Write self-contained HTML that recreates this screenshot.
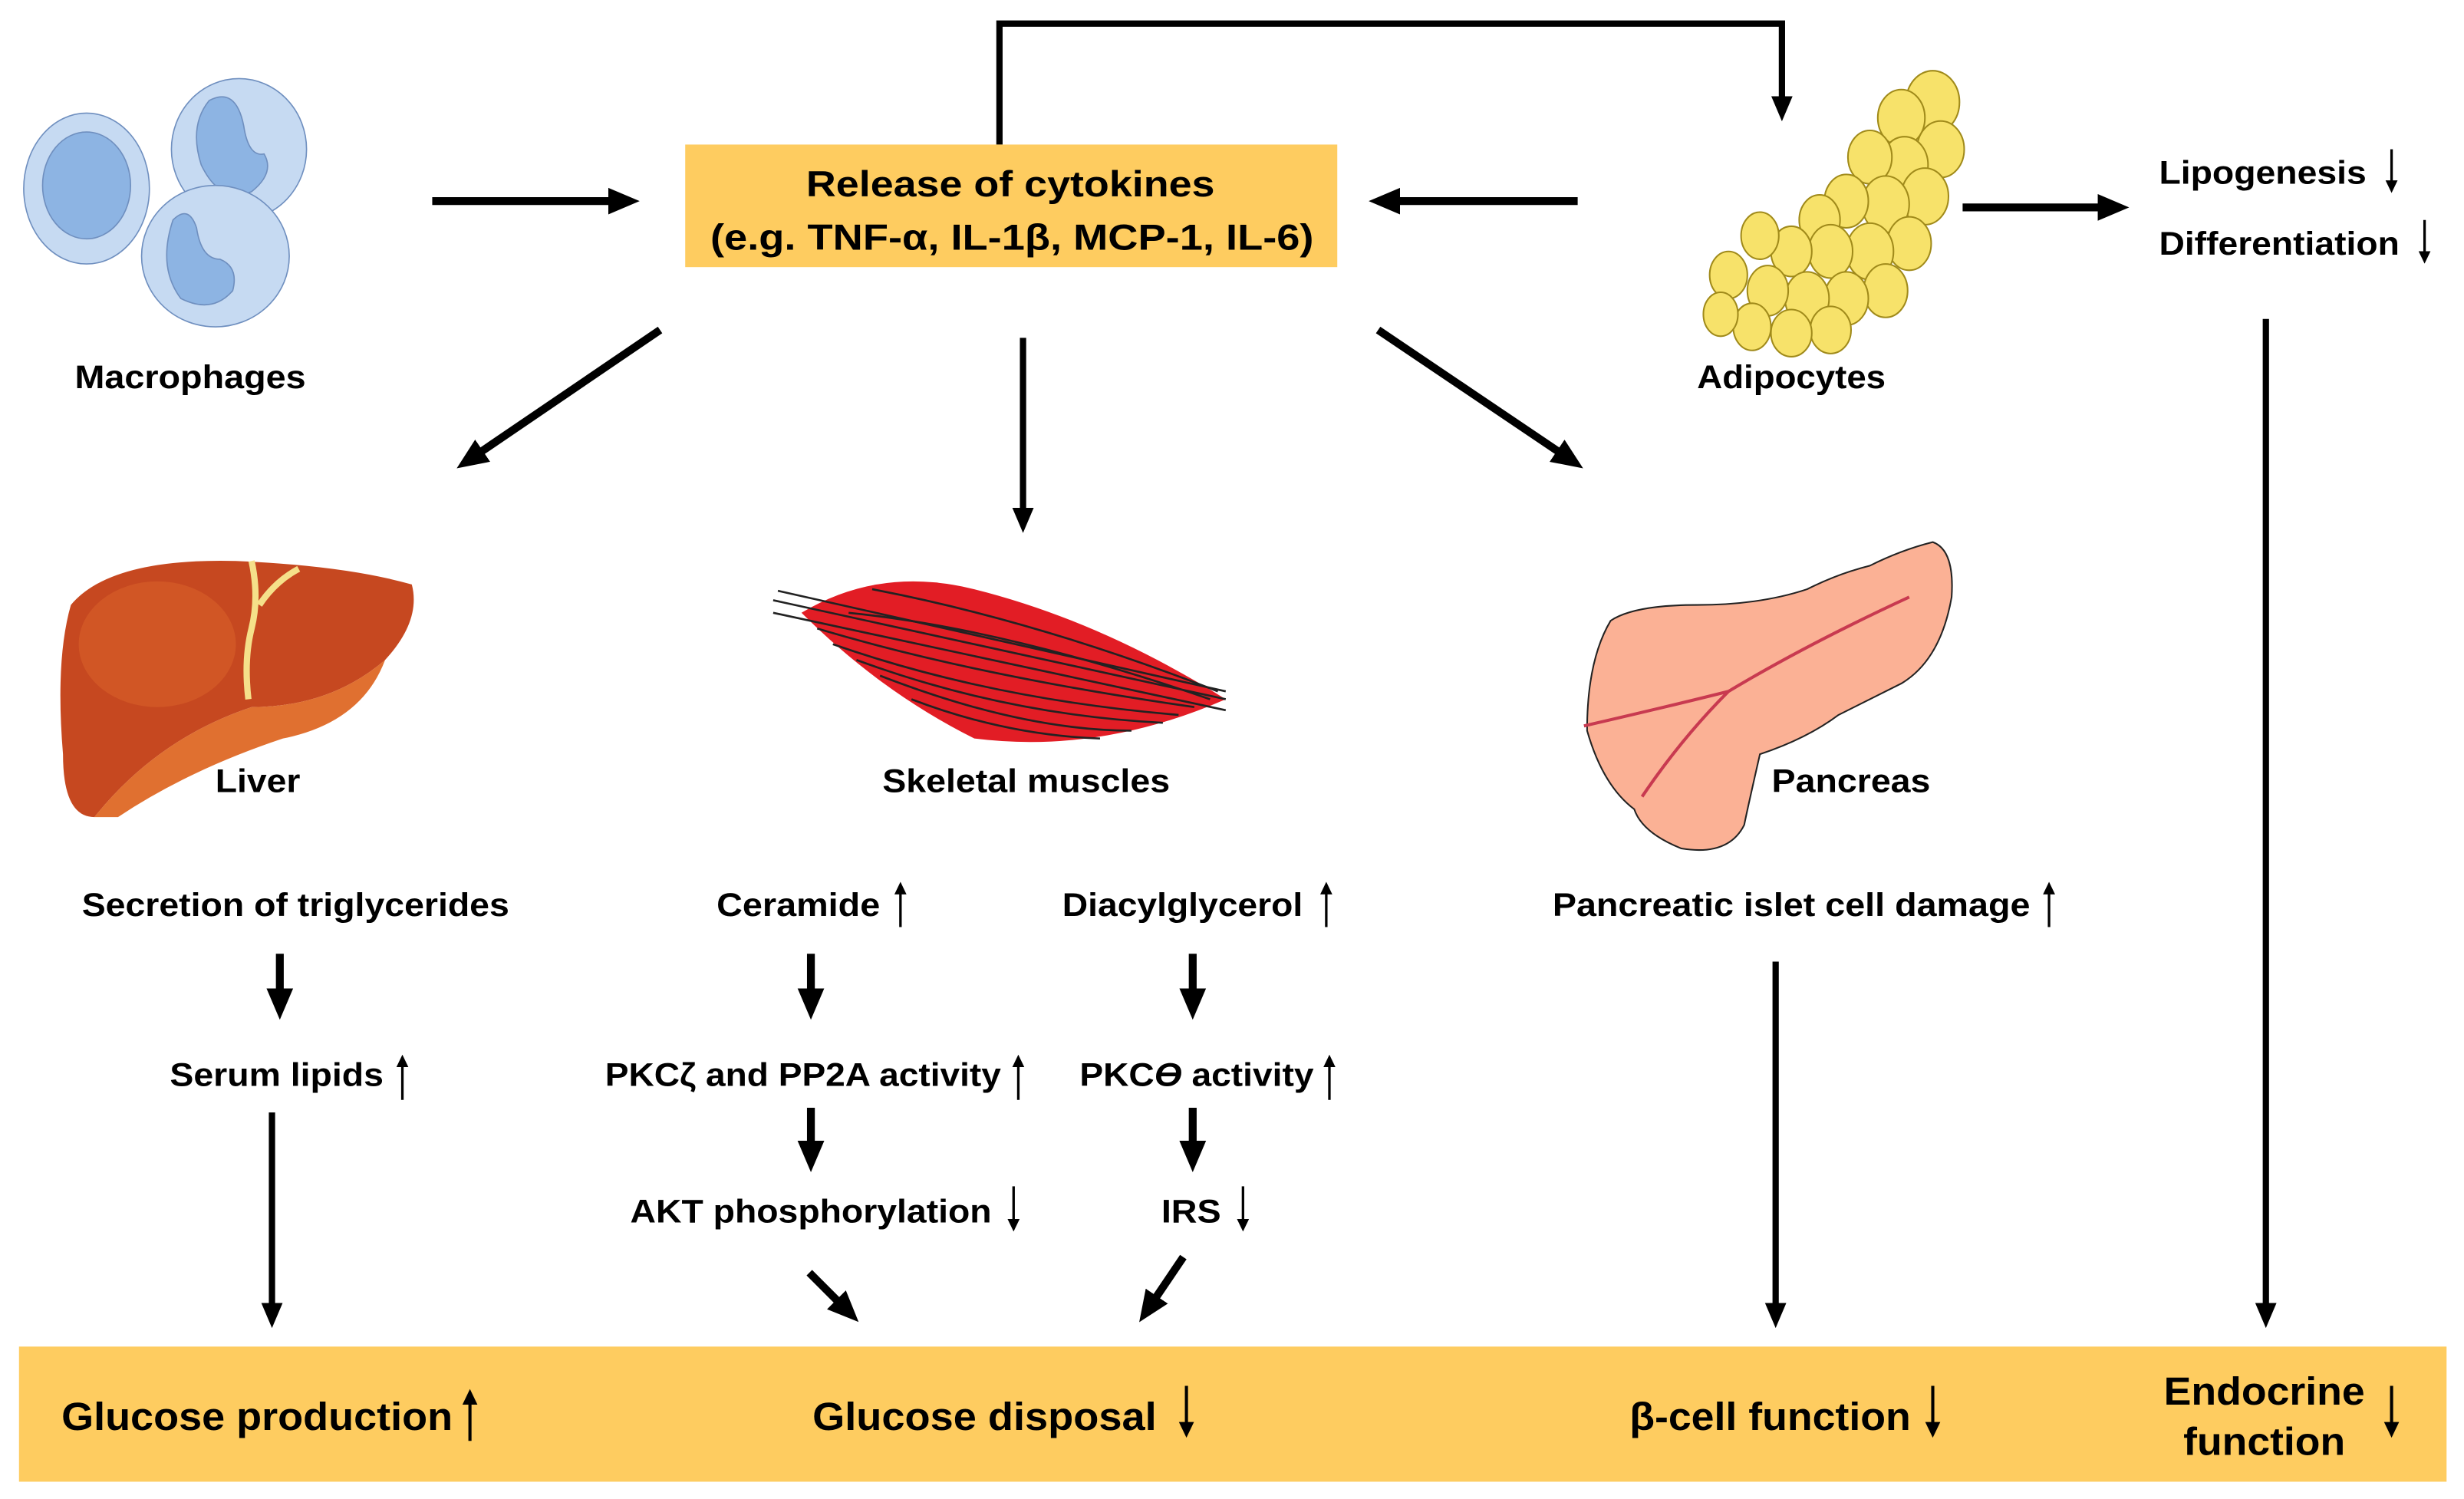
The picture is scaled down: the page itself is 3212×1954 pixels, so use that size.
<!DOCTYPE html>
<html><head><meta charset="utf-8"><style>
html,body{margin:0;padding:0;background:#fff;}
svg{display:block;}
text{font-family:"Liberation Sans",Arial,sans-serif;font-weight:bold;fill:#000;}
</style></head><body>
<svg width="3212" height="1954" viewBox="0 0 1568 954" xmlns="http://www.w3.org/2000/svg">
<defs>
<marker id="h" markerWidth="4" markerHeight="4" refX="2.2" refY="2" orient="auto" markerUnits="strokeWidth">
<path d="M0,0.3 L4,2 L0,3.7 Z" fill="#000"/></marker>
<marker id="s" markerWidth="5" markerHeight="6" refX="2" refY="3" orient="auto" markerUnits="strokeWidth">
<path d="M0,0.6 L5,3 L0,5.4 Z" fill="#000"/></marker>
</defs>
<rect width="1568" height="954" fill="#fff"/>
<!-- boxes -->
<rect x="436" y="92" width="415" height="78" fill="#FECC60"/>
<rect x="12" y="857" width="1545" height="86" fill="#FECC60"/>
<text x="643" y="125" font-size="23" text-anchor="middle" textLength="260" lengthAdjust="spacingAndGlyphs">Release of cytokines</text>
<text x="644" y="159" font-size="23" text-anchor="middle" textLength="384" lengthAdjust="spacingAndGlyphs">(e.g. TNF-α, IL-1β, MCP-1, IL-6)</text>

<!-- macrophages -->
<g stroke="#6f8fbf" stroke-width="0.8">
<ellipse cx="55" cy="120" rx="40" ry="48" fill="#c6daf2"/>
<ellipse cx="55" cy="118" rx="28" ry="34" fill="#8db4e3"/>
<ellipse cx="152" cy="95" rx="43" ry="45" fill="#c6daf2"/>
<path d="M133,64 Q150,55 155,80 Q158,100 168,98 Q175,110 160,122 Q140,130 128,105 Q120,80 133,64Z" fill="#8db4e3"/>
<ellipse cx="137" cy="163" rx="47" ry="45" fill="#c6daf2"/>
<path d="M110,140 Q120,130 125,145 Q128,165 140,165 Q152,170 148,185 Q135,200 115,190 Q100,170 110,140Z" fill="#8db4e3"/>
</g>
<text x="121" y="247" font-size="21" text-anchor="middle" textLength="147" lengthAdjust="spacingAndGlyphs">Macrophages</text>

<!-- adipocytes -->
<g fill="#f7e26a" stroke="#a08a1a" stroke-width="1">
<ellipse cx="1230" cy="65" rx="17" ry="20"/><ellipse cx="1210" cy="75" rx="15" ry="18"/>
<ellipse cx="1235" cy="95" rx="15" ry="18"/><ellipse cx="1212" cy="105" rx="15" ry="18"/><ellipse cx="1190" cy="100" rx="14" ry="17"/>
<ellipse cx="1225" cy="125" rx="15" ry="18"/><ellipse cx="1200" cy="130" rx="15" ry="18"/><ellipse cx="1175" cy="128" rx="14" ry="17"/><ellipse cx="1158" cy="140" rx="13" ry="16"/>
<ellipse cx="1215" cy="155" rx="14" ry="17"/><ellipse cx="1190" cy="160" rx="15" ry="18"/><ellipse cx="1165" cy="160" rx="14" ry="17"/><ellipse cx="1140" cy="160" rx="13" ry="16"/><ellipse cx="1120" cy="150" rx="12" ry="15"/>
<ellipse cx="1200" cy="185" rx="14" ry="17"/><ellipse cx="1175" cy="190" rx="14" ry="17"/><ellipse cx="1150" cy="190" rx="14" ry="17"/><ellipse cx="1125" cy="185" rx="13" ry="16"/><ellipse cx="1100" cy="175" rx="12" ry="15"/>
<ellipse cx="1165" cy="210" rx="13" ry="15"/><ellipse cx="1140" cy="212" rx="13" ry="15"/><ellipse cx="1115" cy="208" rx="12" ry="15"/><ellipse cx="1095" cy="200" rx="11" ry="14"/>
</g>
<text x="1140" y="247" font-size="21" text-anchor="middle" textLength="120" lengthAdjust="spacingAndGlyphs">Adipocytes</text>

<!-- liver -->
<path d="M45,385 Q70,355 150,357 Q220,360 262,372 Q268,395 245,420 Q210,450 160,450 Q100,470 60,520 Q40,520 40,480 Q35,420 45,385Z" fill="#c64820"/>
<path d="M60,520 Q100,470 160,450 Q210,450 245,420 Q230,460 180,470 Q120,490 75,520Z" fill="#e07030"/>
<ellipse cx="100" cy="410" rx="50" ry="40" fill="#d8602a" opacity="0.6"/>
<path d="M160,357 Q165,380 160,400 Q155,420 158,445 M165,385 Q175,370 190,362" stroke="#f5e08a" stroke-width="4" fill="none"/>
<text x="164" y="504" font-size="21" text-anchor="middle" textLength="54" lengthAdjust="spacingAndGlyphs">Liver</text>

<!-- muscle -->
<path d="M510,390 Q560,360 620,375 Q700,395 780,445 Q700,480 620,470 Q560,440 510,390Z" fill="#e21d25"/>
<g stroke="#222" stroke-width="1.3" fill="none">
<path d="M492,382 L780,445"/><path d="M492,390 L780,452"/><path d="M495,376 L780,440"/>
<path d="M520,400 Q620,430 760,450"/><path d="M530,410 Q630,445 750,455"/><path d="M545,420 Q640,455 740,460"/>
<path d="M560,430 Q650,465 720,465"/><path d="M540,390 Q640,400 770,445"/><path d="M580,445 Q640,468 700,470"/>
<path d="M555,375 Q660,395 775,440"/>
</g>
<text x="653" y="504" font-size="21" text-anchor="middle" textLength="183" lengthAdjust="spacingAndGlyphs">Skeletal muscles</text>

<!-- pancreas -->
<path d="M1230,345 Q1244,350 1242,380 Q1235,420 1210,435 Q1190,445 1170,455 Q1150,470 1120,480 Q1112,515 1110,525 Q1100,545 1070,540 Q1045,530 1040,515 Q1020,500 1010,465 Q1010,420 1025,395 Q1040,385 1080,385 Q1120,385 1150,375 Q1170,365 1190,360 Q1210,350 1230,345Z" fill="#fbb195" stroke="#222" stroke-width="1"/>
<path d="M1008,462 Q1060,450 1100,440 Q1150,410 1215,380 M1100,440 Q1070,470 1045,507" stroke="#c83a50" stroke-width="2" fill="none"/>
<text x="1178" y="504" font-size="21" text-anchor="middle" textLength="101" lengthAdjust="spacingAndGlyphs">Pancreas</text>

<!-- big arrows -->
<g stroke="#000" stroke-width="5" fill="none">
<path d="M636,92 V15 H1134 V70" marker-end="url(#h)" stroke-width="4"/>
<path d="M275,128 H398" marker-end="url(#h)"/>
<path d="M1004,128 H880" marker-end="url(#h)"/>
<path d="M1249,132 H1346" marker-end="url(#h)"/>
<path d="M420,210 L298,293" marker-end="url(#h)"/>
<path d="M651,215 V332" marker-end="url(#h)" stroke-width="4"/>
<path d="M877,210 L1000,293" marker-end="url(#h)"/>
<path d="M1442,203 V838" marker-end="url(#h)" stroke-width="4"/>
<path d="M178,607 V640" marker-end="url(#h)"/>
<path d="M516,607 V640" marker-end="url(#h)"/>
<path d="M759,607 V640" marker-end="url(#h)"/>
<path d="M173,708 V838" marker-end="url(#h)" stroke-width="4"/>
<path d="M516,705 V737" marker-end="url(#h)"/>
<path d="M759,705 V737" marker-end="url(#h)"/>
<path d="M515,810 L540,835" marker-end="url(#h)"/>
<path d="M753,800 L730,834" marker-end="url(#h)"/>
<path d="M1130,612 V838" marker-end="url(#h)" stroke-width="4"/>
</g>

<!-- small up/down arrows -->
<g stroke="#000" stroke-width="1.6" fill="none">
<path d="M573,590 V566" marker-end="url(#s)"/>
<path d="M844,590 V566" marker-end="url(#s)"/>
<path d="M1304,590 V566" marker-end="url(#s)"/>
<path d="M256,700 V676" marker-end="url(#s)"/>
<path d="M648,700 V676" marker-end="url(#s)"/>
<path d="M846,700 V676" marker-end="url(#s)"/>
<path d="M645,755 V779" marker-end="url(#s)"/>
<path d="M791,755 V779" marker-end="url(#s)"/>
<path d="M1522,95 V118" marker-end="url(#s)"/>
<path d="M1543,140 V163" marker-end="url(#s)"/>
<path d="M299,917 V890" marker-end="url(#s)" stroke-width="2"/>
<path d="M755,882 V909" marker-end="url(#s)" stroke-width="2"/>
<path d="M1230,882 V909" marker-end="url(#s)" stroke-width="2"/>
<path d="M1522,882 V909" marker-end="url(#s)" stroke-width="2"/>
</g>

<!-- labels -->
<g font-size="21">
<text x="1374" y="117" textLength="132" lengthAdjust="spacingAndGlyphs">Lipogenesis</text>
<text x="1374" y="162" textLength="153" lengthAdjust="spacingAndGlyphs">Differentiation</text>
<text x="52" y="583" textLength="272" lengthAdjust="spacingAndGlyphs">Secretion of triglycerides</text>
<text x="456" y="583" textLength="104" lengthAdjust="spacingAndGlyphs">Ceramide</text>
<text x="676" y="583" textLength="153" lengthAdjust="spacingAndGlyphs">Diacylglycerol</text>
<text x="988" y="583" textLength="304" lengthAdjust="spacingAndGlyphs">Pancreatic islet cell damage</text>
<text x="108" y="691" textLength="136" lengthAdjust="spacingAndGlyphs">Serum lipids</text>
<text x="385" y="691" textLength="252" lengthAdjust="spacingAndGlyphs">PKCζ and PP2A activity</text>
<text x="687" y="691" textLength="149" lengthAdjust="spacingAndGlyphs">PKC<tspan font-style="italic">ϴ</tspan> activity</text>
<text x="401" y="778" textLength="230" lengthAdjust="spacingAndGlyphs">AKT phosphorylation</text>
<text x="739" y="778" textLength="38" lengthAdjust="spacingAndGlyphs">IRS</text>
</g>
<g font-size="25">
<text x="39" y="910" textLength="249" lengthAdjust="spacingAndGlyphs">Glucose production</text>
<text x="517" y="910" textLength="219" lengthAdjust="spacingAndGlyphs">Glucose disposal</text>
<text x="1037" y="910" textLength="179" lengthAdjust="spacingAndGlyphs">β-cell function</text>
<text x="1441" y="894" text-anchor="middle" textLength="128" lengthAdjust="spacingAndGlyphs">Endocrine</text>
<text x="1441" y="926" text-anchor="middle" textLength="103" lengthAdjust="spacingAndGlyphs">function</text>
</g>
</svg>
</body></html>
